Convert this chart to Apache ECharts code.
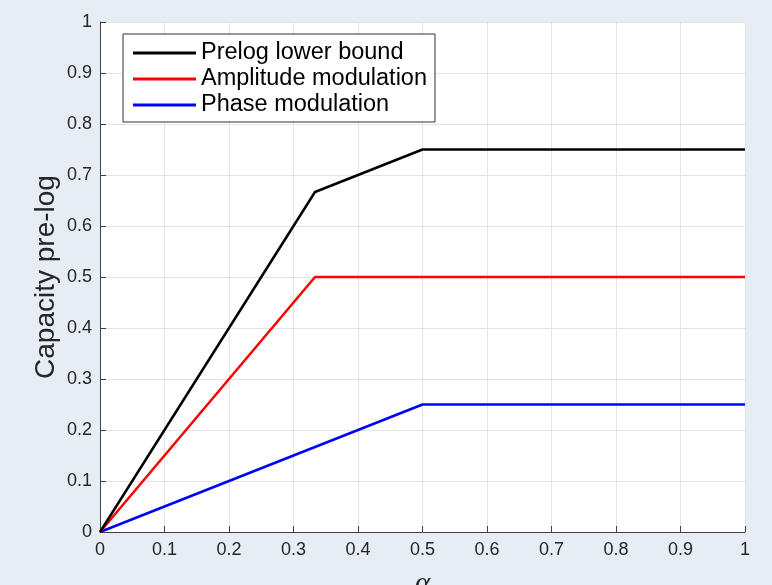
<!DOCTYPE html>
<html>
<head>
<meta charset="utf-8">
<script src="https://cdn.jsdelivr.net/npm/echarts@6/dist/echarts.min.js"></script>
<style>
html,body{margin:0;padding:0;background:#e6edf5;}
#c{width:772px;height:585px;}
</style>
</head>
<body>
<div id="c"></div>
<script>
const seriesNames = ['Prelog lower bound', 'Amplitude modulation', 'Phase modulation'];
const seriesColors = ['#000000', '#ff0000', '#0000ff'];
const prelogLower = [[0, 0], [1/3, 2/3], [0.5, 0.75], [1, 0.75]];
const amplitudeMod = [[0, 0], [1/3, 0.5], [1, 0.5]];
const phaseMod = [[0, 0], [0.5, 0.25], [1, 0.25]];
const seriesData = [prelogLower, amplitudeMod, phaseMod];

const chart = echarts.init(document.getElementById('c'));
const axisCol = '#404040';
const labelCol = '#262626';
const font = 'Liberation Sans, Arial, Helvetica, sans-serif';

chart.setOption({
  backgroundColor: '#e6edf5',
  animation: false,
  grid: {left: 100, right: 27, top: 22, bottom: 53, backgroundColor: '#ffffff', show: true, borderWidth: 0,
         containLabel: false, outerBoundsMode: 'none'},
  legend: {
    orient: 'vertical',
    left: 123, top: 34,
    padding: [6, 8, 4, 10],
    itemGap: 0,
    itemWidth: 63,
    itemHeight: 3,
    icon: 'rect',
    backgroundColor: '#ffffff',
    borderColor: '#333333',
    borderWidth: 1,
    borderRadius: 0,
    textStyle: {fontSize: 23.5, fontFamily: font, color: '#000', lineHeight: 26},
    data: seriesNames.map((n, i) => ({name: n, itemStyle: {color: seriesColors[i]}}))
  },
  xAxis: {
    type: 'value', min: 0, max: 1, interval: 0.1,
    name: 'α', nameLocation: 'middle', nameGap: 38, nameMoveOverlap: false,
    nameTextStyle: {fontSize: 29, fontStyle: 'italic', fontFamily: 'Liberation Serif, serif', color: labelCol},
    axisLine: {show: true, lineStyle: {color: axisCol, width: 1}},
    axisTick: {show: true, inside: true, length: 6, lineStyle: {color: axisCol}},
    axisLabel: {fontSize: 18, color: labelCol, fontFamily: font, margin: 9,
      formatter: v => String(Math.round(v * 10) / 10)},
    splitLine: {show: true, lineStyle: {color: '#e3e3e3', width: 1}}
  },
  yAxis: {
    type: 'value', min: 0, max: 1, interval: 0.1,
    name: 'Capacity pre-log', nameLocation: 'middle', nameGap: 40, nameMoveOverlap: false,
    nameTextStyle: {fontSize: 28, fontFamily: font, color: labelCol},
    axisLine: {show: true, lineStyle: {color: axisCol, width: 1}},
    axisTick: {show: true, inside: true, length: 6, lineStyle: {color: axisCol}},
    axisLabel: {fontSize: 18, color: labelCol, fontFamily: font, margin: 8,
      formatter: v => String(Math.round(v * 10) / 10)},
    splitLine: {show: true, lineStyle: {color: '#e3e3e3', width: 1}}
  },
  series: seriesData.map((d, i) => ({
    name: seriesNames[i], type: 'line', data: d, showSymbol: false, symbol: 'none',
    lineStyle: {color: seriesColors[i], width: 2.5}, itemStyle: {color: seriesColors[i]}, z: 5 - i
  }))
});
</script>
</body>
</html>
